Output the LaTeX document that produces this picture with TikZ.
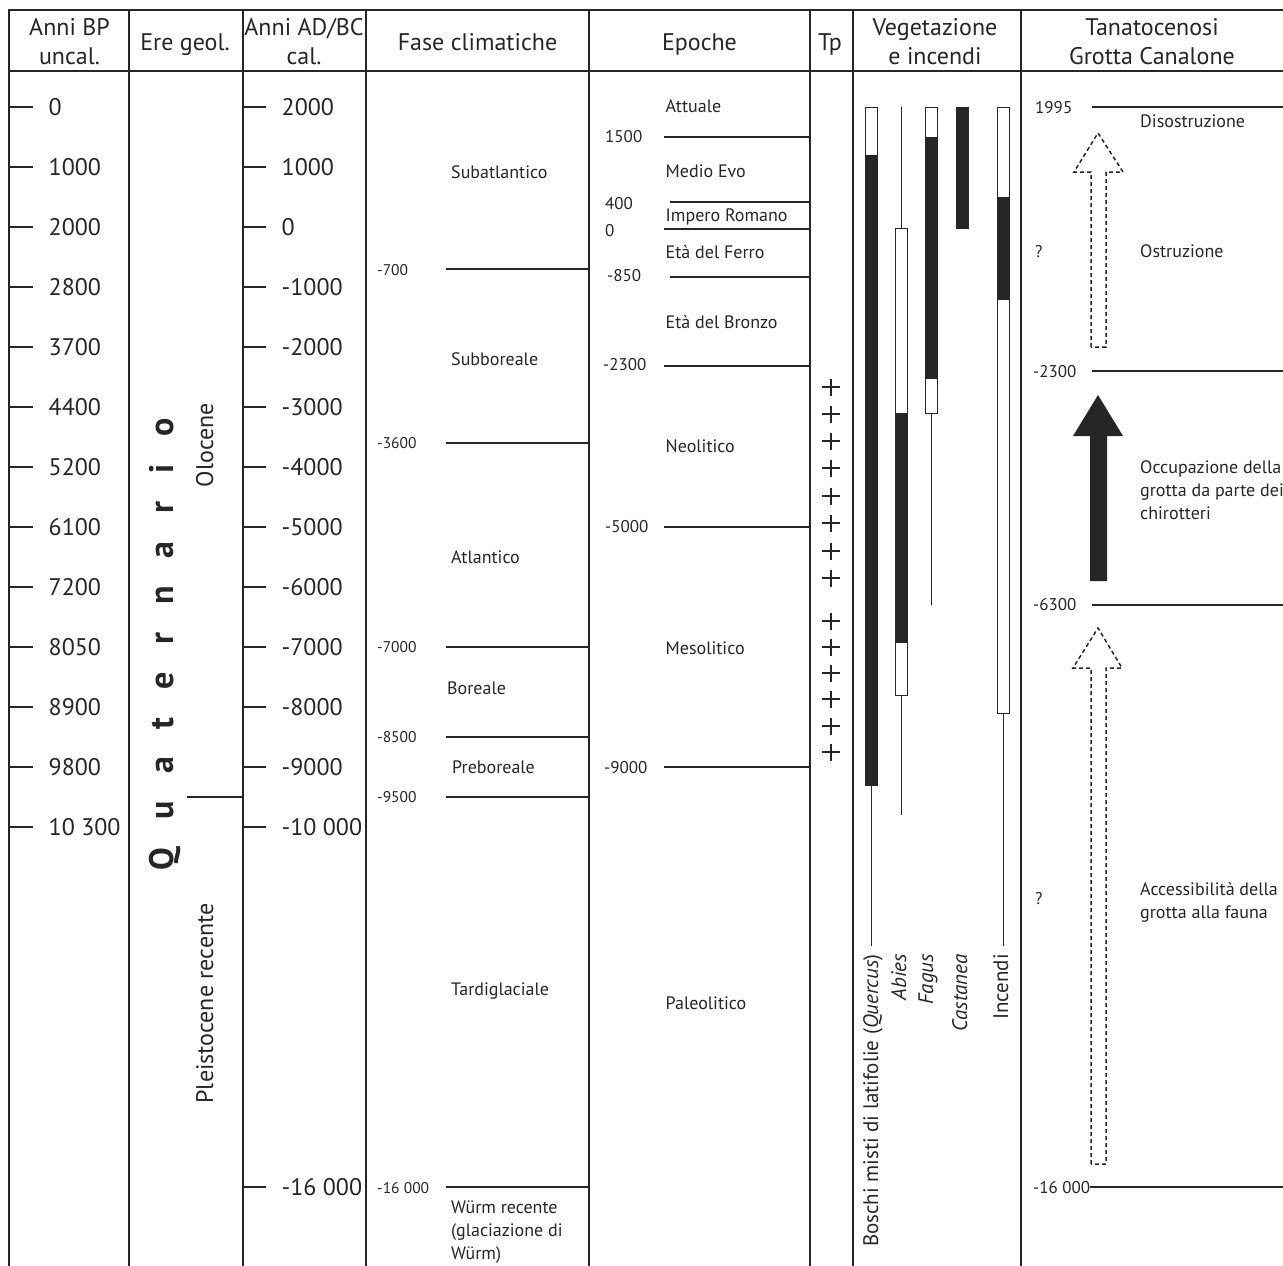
\documentclass[tikz,border=0pt]{standalone}
\usepackage{fontspec}
\setmainfont{PT Sans}
\definecolor{ink}{HTML}{262626}
\newcommand\fsz[2]{\fontsize{#1pt}{#2pt}\selectfont}
\begin{document}
\begin{tikzpicture}[x=1pt,y=-1pt,
  frame/.style={draw=ink,line width=1.7pt},
  rule/.style={draw=ink,line width=1.1pt},
  tick/.style={draw=ink,line width=1.1pt},
  tickb/.style={draw=ink,line width=2.6pt},
  hdr/.style={font=\fsz{24}{29},align=center,anchor=north,inner sep=0pt,text=ink},
  big/.style={font=\fsz{24}{29},anchor=base west,yshift=-8.4pt,inner sep=0pt,text=ink},
  lbl/.style={font=\fsz{18}{23},anchor=base west,yshift=-6.3pt,inner sep=0pt,text=ink},
  mlab/.style={font=\fsz{18}{23},align=left,anchor=north west,inner sep=0pt,text=ink},
  num/.style={font=\fsz{17}{20},anchor=base west,yshift=-5.95pt,inner sep=0pt,text=ink},
  fnum/.style={font=\fsz{15.5}{19},anchor=base west,yshift=-5.4pt,inner sep=0pt,text=ink},
  vlab/.style={font=\fsz{21}{25},rotate=90,anchor=base east,inner sep=0pt,text=ink},
  era/.style={font=\fsz{24}{29},rotate=90,anchor=base,inner sep=0pt,text=ink},
  barw/.style={draw=ink,fill=white,line width=1pt},
  barb/.style={draw=ink,fill=ink,line width=1pt},
  stem/.style={draw=ink,line width=1pt},
  plus/.style={draw=ink,line width=1.3pt},
  darr/.style={draw=ink,line width=1.5pt,dash pattern=on 4pt off 3pt,line join=miter},
  sarr/.style={fill=ink,draw=none}
]
\useasboundingbox (0,0) rectangle (1283,1266);
\fill[white] (0,0) rectangle (1283,1266);

% ---------- table frame ----------
\draw[frame] (9,1266) -- (9,10) -- (1283,10);
\draw[frame] (9,71) -- (1283,71);
\foreach \xx in {129,243,366,589,810,853,1021}
  \draw[frame] (\xx,10) -- (\xx,1266);

% ---------- headers ----------
\node[hdr] (hBP)   at (69.5,18.3) {Anni BP\\uncal.};
\node[hdr] (hEre)  at (185,33)    {Ere geol.};
\node[hdr] (hAD)   at (304,18.3)  {Anni AD/BC\\cal.};
\node[hdr] (hFase) at (477.5,33)  {Fase climatiche};
\node[hdr] (hEp)   at (699.5,33)  {Epoche};
\node[hdr] (hTp)   at (830,33)    {Tp};
\node[hdr] (hVeg)  at (935,18.3)  {Vegetazione\\e incendi};
\node[hdr] (hTan)  at (1152,18.3) {Tanatocenosi\\Grotta Canalone};

% ---------- BP scale ----------
\draw[tickb] (9,107) -- (33,107);
\foreach \yy in {167,227,287,347,407,467,527,587,647,707,767,827}
  \draw[tick] (9,\yy) -- (33,\yy);
\foreach \yy/\t [count=\i] in {107/0,167/1000,227/2000,287/2800,347/3700,407/4400,467/5200,527/6100,587/7200,647/8050,707/8900,767/9800,827/10 300}
  \node[big] (bp\i) at (48.5,\yy) {\t};

% ---------- AD/BC scale ----------
\draw[tickb] (243,107) -- (266,107);
\foreach \yy in {167,227,287,347,407,467,527,587,647,707,767,827,1187}
  \draw[tick] (243,\yy) -- (266,\yy);
\foreach \yy/\t [count=\i] in {107/2000,167/1000,227/0,287/-1000,347/-2000,407/-3000,467/-4000,527/-5000,587/-6000,647/-7000,707/-8000,767/-9000,827/-10 000,1187/-16 000}
  \node[big] (ad\i) at (281.5,\yy) {\t};

% ---------- Ere geologiche ----------
\node[font=\fsz{34}{40}\bfseries,rotate=90,anchor=base,inner sep=0pt,text=ink] (quat) at (173,644.5)
  {{\spaceskip=27.8pt Q u a t e r n a r i o}};
\node[era] (olo) at (213,445) {Olocene};
\node[era] (ple) at (213,1003.5) {Pleistocene recente};
\draw[rule] (187,797) -- (243,797);

% ---------- Fase climatiche ----------
\foreach \yy in {269,443,647,737,797,1187}
  \draw[rule] (446,\yy) -- (589,\yy);
\foreach \yy/\t [count=\i] in {270/-700,443/-3600,647/-7000,737.5/-8500,797.5/-9500,1188/-16 000}
  \node[fnum] (fn\i) at (377,\yy) {\t};
\node[lbl] (subat) at (451,172) {Subatlantico};
\node[lbl] (subbo) at (451,359) {Subboreale};
\node[lbl] (atl)   at (451,557) {Atlantico};
\node[lbl] (bor)   at (447,688) {Boreale};
\node[lbl] (prebo) at (452,767) {Preboreale};
\node[lbl] (tard)  at (451,989) {Tardiglaciale};
\node[mlab] (wurm) at (451,1200.5) {Würm recente\\(glaciazione di\\Würm)};

% ---------- Epoche ----------
\foreach \yy in {137,229,366,527,767}
  \draw[rule] (664,\yy) -- (810,\yy);
\foreach \yy in {202,277}
  \draw[rule] (670,\yy) -- (810,\yy);
\node[num] (e1500) at (605,137) {1500};
\node[num] (e400)  at (605,204) {400};
\node[num] (e0)    at (605,230.5) {0};
\node[num] (e850)  at (607,276) {-850};
\node[num] (e2300) at (603,365) {-2300};
\node[num] (e5000) at (605,527) {-5000};
\node[num] (e9000) at (604,768) {-9000};
\node[lbl] (att)  at (665.5,106) {Attuale};
\node[lbl] (med)  at (665.5,171) {Medio Evo};
\node[lbl] (imp)  at (665.5,215) {Impero Romano};
\node[lbl] (fer)  at (665.5,252) {Età del Ferro};
\node[lbl] (bro)  at (665.5,322) {Età del Bronzo};
\node[lbl] (neo)  at (665.5,446) {Neolitico};
\node[lbl] (mes)  at (665.5,648) {Mesolitico};
\node[lbl] (pal)  at (665.5,1003) {Paleolitico};

% ---------- Tp ----------
\foreach \yy in {387,414,441,468,496,523,551,578,621,647,673,699,726,752}
  \draw[plus] (822,\yy) -- (840,\yy) (831,\yy-8.5) -- (831,\yy+8.5);

% ---------- Vegetazione e incendi ----------
% Quercus
\draw[barw] (865,107) rectangle (877,155);
\draw[barb] (865,155) rectangle (877,785);
\coordinate (qb) at (871,785);
% Abies
\draw[stem] (901,107) -- (901,228);
\draw[barw] (895,228) rectangle (907,413);
\draw[barb] (895,413) rectangle (907,642);
\draw[barw] (895,642) rectangle (907,695);
\draw[stem] (901,695) -- (901,815);
% Fagus
\draw[barw] (925,107) rectangle (937,137);
\draw[barb] (925,137) rectangle (937,378);
\draw[barw] (925,378) rectangle (937,413);
\draw[stem] (931,413) -- (931,605);
% Castanea
\draw[barb] (956,107) rectangle (968,228);
% Incendi
\draw[barw] (997,107) rectangle (1009,197);
\draw[barb] (997,197) rectangle (1009,299);
\draw[barw] (997,299) rectangle (1009,713);
\coordinate (ib) at (1003,713);

\node[vlab] (lq) at (878,954) {Boschi misti di latifolie (\textit{Quercus})};
\node[vlab] (la) at (906,954) {\textit{Abies}};
\node[vlab] (lf) at (933,954) {\textit{Fagus}};
\node[vlab] (lc) at (967,954) {\textit{Castanea}};
\node[vlab] (li) at (1008,954) {Incendi};
\draw[stem,shorten >=8pt] (qb) -- (qb |- lq.east);
\draw[stem,shorten >=8pt] (ib) -- (ib |- li.east);

% ---------- Tanatocenosi ----------
\draw[rule] (1092,107) -- (1283,107);
\draw[rule] (1092,371) -- (1283,371);
\draw[rule] (1092,605) -- (1283,605);
\draw[rule] (1090,1187) -- (1283,1187);
\node[num] (t1995) at (1035,107.5) {1995};
\node[num] (t2300) at (1033,371.5) {-2300};
\node[num] (t6300) at (1033,605) {-6300};
\node[num] (t16k)  at (1033,1188) {-16 000};
\node[num] (q1) at (1035,252) {?};
\node[num] (q2) at (1035,899) {?};
\node[lbl] (diso) at (1140,121) {Disostruzione};
\node[lbl] (ostr) at (1140,251) {Ostruzione};
\node[mlab] (occ) at (1140,460.3) {Occupazione della\\grotta da parte dei\\chirotteri};
\node[mlab] (acc) at (1140,882.3) {Accessibilità della\\grotta alla fauna};

% arrows
\draw[darr] (1091,347) -- (1091,172) -- (1074,172) -- (1098,133) -- (1123,172) -- (1106,172) -- (1106,347) -- cycle;
\fill[sarr] (1090,581) -- (1090,436) -- (1073,436) -- (1098,395) -- (1123,436) -- (1107,436) -- (1107,581) -- cycle;
\draw[darr] (1091,1164) -- (1091,668) -- (1073,668) -- (1098,628) -- (1122,668) -- (1106,668) -- (1106,1164) -- cycle;
\end{tikzpicture}
\end{document}
